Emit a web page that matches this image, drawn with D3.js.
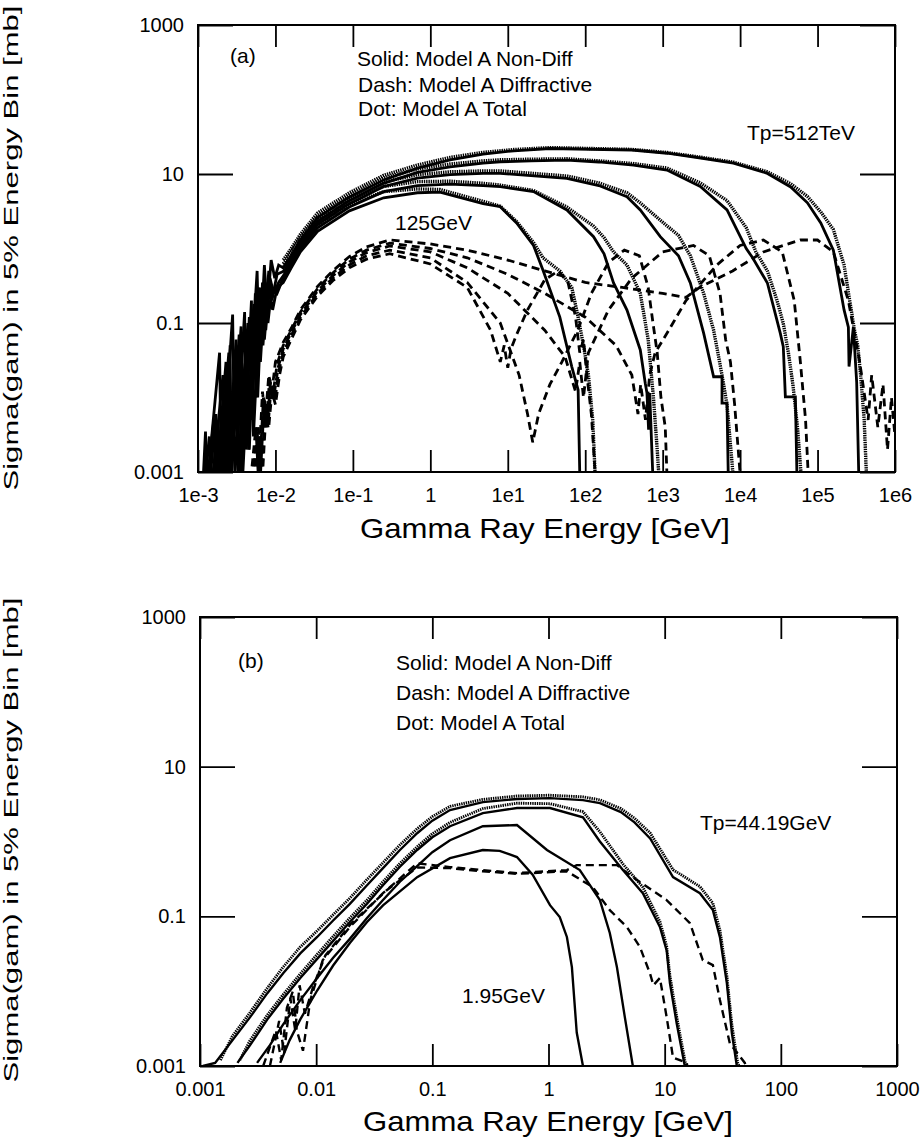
<!DOCTYPE html>
<html><head><meta charset="utf-8">
<script src="https://cdn.jsdelivr.net/npm/d3@7"></script>
<style>body{margin:0;background:#fff} text{font-family:"Liberation Sans",Arial,Helvetica,sans-serif;fill:#000}</style>
</head><body><svg id="c" width="923" height="1141"></svg>
<script>
// ---------- axis ticks ----------
const aXTicks=[1e-3,1e-2,1e-1,1,1e1,1e2,1e3,1e4,1e5,1e6];
const aXLabels=["1e-3","1e-2","1e-1","1","1e1","1e2","1e3","1e4","1e5","1e6"];
const bXTicks=[1e-3,1e-2,1e-1,1,10,100,1000];
const bXLabels=["0.001","0.01","0.1","1","10","100","1000"];
const yTicks=[0.001,0.1,10,1000];
const yLabels=["0.001","0.1","10","1000"];

// ---------- Panel (a) data : [Gamma energy GeV, sigma mb] ----------
const aSolid512=[[0.00115,0.0006],[0.00125,0.0035],[0.0013,0.0006],[0.0019,0.04],[0.002,0.0007],[0.0028,0.13],[0.003,0.0009],[0.004,0.14],[0.0042,0.002],[0.0058,0.5],[0.0062,0.03],[0.0072,0.6],[0.0078,0.15],[0.0088,0.7],[0.0098,0.4],[0.011,0.6],[0.0126,0.55],[0.016,0.8],[0.021,1.3],[0.035,2.6],[0.09,4.9],[0.25,8.3],[0.68,12],[1.8,15.5],[4.8,18.5],[12,20.5],[35,22],[115,21.5],[400,21],[1150,19],[3100,16.4],[8200,14],[22000,10.3],[45000,6.7],[74000,4.1],[110000,2.2],[160000,0.95],[220000,0.15],[250000,0.088],[255000,0.026],[290000,0.088],[320000,0.016],[345000,0.0005]];
const aSolid64=[[0.0012,0.0006],[0.0014,0.003],[0.0015,0.0006],[0.0021,0.02],[0.0022,0.0007],[0.0026,0.05],[0.0027,0.0008],[0.0036,0.09],[0.0038,0.001],[0.0049,0.2],[0.0052,0.003],[0.0064,0.3],[0.0069,0.05],[0.0082,0.5],[0.009,0.2],[0.0105,0.45],[0.013,0.5],[0.016,0.72],[0.021,1.2],[0.035,2.3],[0.09,4.4],[0.25,7.5],[0.68,10.5],[1.8,12.5],[4.8,14],[8,14.6],[20,15],[58,15.4],[150,14.5],[421,13.2],[1137,11.3],[3063,6.8],[6776,3.3],[12000,1.0],[14500,0.75],[22500,0.345],[33000,0.073],[36100,0.048],[38400,0.0102],[51700,0.0102],[54800,0.0005]];
const aSolid8=[[0.0013,0.0006],[0.0016,0.005],[0.0017,0.0006],[0.0023,0.03],[0.0024,0.0007],[0.0031,0.06],[0.0033,0.0008],[0.0044,0.1],[0.0046,0.002],[0.0055,0.25],[0.0059,0.01],[0.0068,0.35],[0.0075,0.08],[0.0085,0.4],[0.0095,0.25],[0.011,0.35],[0.013,0.45],[0.016,0.65],[0.021,1.1],[0.035,2.1],[0.09,4.0],[0.25,6.8],[0.68,8.8],[1.8,9.8],[4.8,10.2],[8,10.2],[58,8.75],[150,7],[346,4.95],[514,3.29],[931,1.44],[1600,0.8],[2277,0.345],[3381,0.073],[4550,0.019],[5840,0.019],[5840,0.0084],[6770,0.0084],[7100,0.0005]];
const aSolid1=[[0.0014,0.0006],[0.0017,0.006],[0.0018,0.0006],[0.0025,0.04],[0.0026,0.0007],[0.0034,0.07],[0.0036,0.001],[0.0046,0.12],[0.0049,0.005],[0.006,0.3],[0.0064,0.03],[0.0074,0.35],[0.008,0.1],[0.009,0.3],[0.0105,0.25],[0.0126,0.4],[0.016,0.6],[0.021,1.0],[0.035,1.9],[0.09,3.6],[0.25,5.8],[0.68,7.0],[1.8,7.3],[4.8,7.0],[8,6.76],[21.5,5.8],[58,3.29],[128,1.44],[175,0.85],[232,0.345],[346,0.149],[514,0.0435],[596,0.0155],[627,0.0115],[658,0.0037],[680,0.0115],[762,0.0005]];
const aSolid125=[[0.0015,0.0006],[0.0018,0.004],[0.0019,0.0006],[0.0024,0.015],[0.0025,0.0007],[0.0032,0.05],[0.0034,0.0008],[0.0042,0.08],[0.0045,0.002],[0.0053,0.18],[0.0056,0.01],[0.0066,0.28],[0.0072,0.06],[0.0082,0.3],[0.0092,0.15],[0.0105,0.3],[0.0126,0.35],[0.016,0.55],[0.021,0.9],[0.035,1.7],[0.09,3.2],[0.25,4.8],[0.68,5.6],[1.33,5.7],[4.8,4.0],[8,3.64],[13,2.2],[21.5,1.1],[28.5,0.51],[47,0.12],[67,0.026],[81,0.0126],[86,0.0005]];

const aDash512=[[0.0048,0.0008],[0.0056,0.004],[0.006,0.0009],[0.0068,0.012],[0.0074,0.005],[0.0082,0.02],[0.009,0.012],[0.01,0.03],[0.0126,0.055],[0.016,0.085],[0.021,0.15],[0.035,0.31],[0.055,0.5],[0.09,0.78],[0.15,1.05],[0.3,1.3],[1,1.15],[3,0.95],[10,0.7],[30,0.5],[100,0.35],[300,0.3],[1000,0.25],[2000,0.22],[3000,0.3],[8000,0.5],[20000,0.9],[60000,1.3],[100000,1.3],[160000,0.9],[250000,0.2],[350000,0.03],[450000,0.005],[500000,0.02],[600000,0.004],[700000,0.015],[800000,0.002],[900000,0.01],[1000000,0.003]];
const aDash64=[[0.005,0.0008],[0.0058,0.003],[0.0062,0.0009],[0.007,0.01],[0.0076,0.004],[0.0084,0.018],[0.0093,0.011],[0.0105,0.028],[0.0126,0.05],[0.016,0.08],[0.021,0.14],[0.035,0.29],[0.055,0.47],[0.09,0.72],[0.15,0.95],[0.3,1.18],[1,1.0],[3,0.75],[10,0.45],[30,0.25],[100,0.12],[250,0.05],[400,0.02],[480,0.006],[520,0.015],[600,0.005],[680,0.02],[800,0.04],[1200,0.08],[2000,0.2],[5000,0.6],[10000,1.1],[20000,1.3],[35000,0.9],[50000,0.2],[60000,0.03],[70000,0.005],[78000,0.0005]];
const aDash8=[[0.0052,0.0008],[0.006,0.004],[0.0064,0.0009],[0.0072,0.01],[0.0078,0.004],[0.0086,0.016],[0.0095,0.01],[0.0108,0.025],[0.0126,0.045],[0.016,0.075],[0.021,0.13],[0.035,0.27],[0.055,0.43],[0.09,0.66],[0.15,0.88],[0.3,1.08],[1,0.9],[3,0.55],[10,0.25],[30,0.08],[55,0.035],[75,0.012],[85,0.03],[95,0.01],[110,0.04],[200,0.15],[400,0.4],[1000,0.9],[2500,1.1],[4000,0.8],[5500,0.25],[6500,0.06],[7500,0.03],[8500,0.008],[10500,0.0005]];
const aDash1=[[0.0054,0.0008],[0.0062,0.003],[0.0066,0.0009],[0.0074,0.008],[0.008,0.004],[0.0088,0.014],[0.0098,0.009],[0.011,0.022],[0.0126,0.04],[0.016,0.068],[0.021,0.12],[0.035,0.25],[0.055,0.4],[0.09,0.6],[0.15,0.8],[0.3,0.95],[1,0.75],[3,0.35],[8,0.1],[14,0.02],[18,0.006],[21,0.0025],[25,0.006],[35,0.015],[50,0.03],[80,0.08],[120,0.25],[200,0.65],[320,0.95],[500,0.8],[650,0.3],[750,0.1],[850,0.04],[950,0.01],[1080,0.004],[1160,0.0005]];
const aDash125=[[0.0056,0.0008],[0.0064,0.003],[0.0068,0.0009],[0.0076,0.007],[0.0082,0.004],[0.009,0.012],[0.01,0.008],[0.0113,0.02],[0.0126,0.035],[0.016,0.06],[0.021,0.11],[0.035,0.23],[0.055,0.37],[0.09,0.55],[0.15,0.72],[0.3,0.85],[1,0.62],[3,0.3],[6,0.08],[8,0.03],[9,0.05],[10,0.025],[11,0.045],[13,0.07],[18,0.15],[30,0.38],[45,0.5],[60,0.35],[75,0.12],[85,0.04],[95,0.06],[105,0.02],[120,0.006],[140,0.0005]];

const aTot512=[[0.0126,0.7],[0.016,1.0],[0.021,1.55],[0.035,3.0],[0.09,5.6],[0.25,9.6],[0.68,13.2],[1.8,16.7],[4.8,19.5],[12,21.3],[35,22.6],[115,22],[400,21.4],[1150,19.4],[3100,16.8],[8200,14.4],[22000,10.8],[45000,7.4],[74000,5],[110000,3.1],[160000,1.8],[220000,0.6],[260000,0.2],[300000,0.08],[330000,0.05],[360000,0.02],[400000,0.005],[430000,0.0008]];
const aTot64=[[0.0126,0.62],[0.016,0.9],[0.021,1.4],[0.035,2.7],[0.09,5.1],[0.25,8.8],[0.68,11.7],[1.8,13.6],[4.8,15],[8,15.5],[20,15.8],[58,16],[150,15],[421,13.8],[1137,12],[3063,7.6],[6776,4.4],[12000,1.9],[16000,0.9],[22500,0.5],[30000,0.2],[36000,0.1],[42000,0.04],[48000,0.015],[55000,0.004],[62000,0.0008]];
const aTot8=[[0.0126,0.56],[0.016,0.8],[0.021,1.3],[0.035,2.5],[0.09,4.7],[0.25,7.8],[0.68,9.8],[1.8,10.7],[4.8,11],[8,11],[58,9.4],[150,7.6],[346,5.6],[514,4.1],[931,2.4],[1600,1.5],[2277,0.8],[3381,0.25],[4550,0.08],[5840,0.02],[6770,0.008],[7600,0.002],[8200,0.0008]];
const aTot1=[[0.0126,0.52],[0.016,0.75],[0.021,1.2],[0.035,2.3],[0.09,4.3],[0.25,6.8],[0.68,7.9],[1.8,8.0],[4.8,7.5],[8,7.1],[21.5,6.0],[58,3.6],[128,2.0],[175,1.4],[232,0.9],[346,0.6],[514,0.25],[650,0.06],[760,0.01],[850,0.002],[900,0.0008]];
const aTot125=[[0.0126,0.48],[0.016,0.7],[0.021,1.05],[0.035,2.1],[0.09,3.9],[0.25,5.8],[0.68,6.3],[1.33,6.2],[4.8,4.3],[8,3.7],[13,2.3],[21.5,1.2],[28.5,0.75],[47,0.5],[67,0.3],[81,0.12],[95,0.05],[110,0.02],[125,0.005],[135,0.0008]];

// ---------- Panel (b) data ----------
const bSolid44=[[0.00106,0.001],[0.00135,0.0011],[0.0019,0.0022],[0.0027,0.0045],[0.0038,0.0094],[0.0052,0.0174],[0.0073,0.032],[0.0102,0.053],[0.014,0.088],[0.0195,0.147],[0.0274,0.26],[0.0376,0.44],[0.0526,0.77],[0.074,1.29],[0.1,1.9],[0.142,2.63],[0.272,3.36],[0.535,3.7],[1.03,3.8],[1.98,3.57],[2.77,3.26],[4.2,2.47],[5.5,1.8],[7.5,1.1],[11.8,0.334],[20.1,0.204],[26,0.121],[29.9,0.0527],[34.3,0.0128],[37.9,0.00275],[41.8,0.001],[43,0.0008]];
const bSolid15=[[0.0021,0.0011],[0.0027,0.0019],[0.0038,0.0042],[0.0052,0.0079],[0.0073,0.015],[0.0102,0.027],[0.014,0.047],[0.0195,0.084],[0.0274,0.147],[0.0376,0.26],[0.0526,0.46],[0.074,0.77],[0.1,1.14],[0.142,1.6],[0.272,2.4],[0.535,2.8],[1.03,2.8],[1.98,2.1],[2.77,1.0],[4.37,0.415],[6.49,0.204],[9.1,0.072],[10.4,0.035],[11.1,0.0128],[12.7,0.0037],[14.9,0.001],[15.3,0.0008]];
const bSolid5=[[0.0031,0.0011],[0.004,0.0019],[0.0052,0.0036],[0.0073,0.0076],[0.0102,0.015],[0.014,0.028],[0.0195,0.05],[0.0274,0.095],[0.0376,0.165],[0.0526,0.29],[0.074,0.47],[0.1,0.72],[0.142,1.04],[0.272,1.6],[0.535,1.66],[0.97,0.77],[1.86,0.415],[2.77,0.165],[3.37,0.06],[3.88,0.021],[4.54,0.0045],[5.32,0.001],[5.5,0.0008]];
const bSolid2=[[0.0049,0.0011],[0.0059,0.0022],[0.0073,0.0042],[0.0102,0.0102],[0.014,0.022],[0.0195,0.044],[0.0274,0.084],[0.0376,0.14],[0.074,0.334],[0.142,0.6],[0.272,0.77],[0.38,0.75],[0.535,0.62],[0.73,0.36],[1.03,0.141],[1.25,0.098],[1.44,0.053],[1.59,0.021],[1.75,0.0028],[1.98,0.001],[2.05,0.0008]];

const bDash44=[[0.0035,0.001],[0.0045,0.003],[0.005,0.0012],[0.0056,0.006],[0.0063,0.01],[0.0068,0.003],[0.0077,0.0016],[0.0089,0.0076],[0.0114,0.026],[0.0195,0.072],[0.0376,0.204],[0.074,0.51],[0.142,0.455],[0.272,0.415],[0.535,0.378],[1.44,0.415],[1.75,0.483],[3.88,0.483],[5.32,0.334],[10.4,0.165],[16.5,0.081],[21.3,0.026],[26,0.0223],[29.9,0.0076],[36.4,0.002],[49,0.0011],[52,0.0008]];
const bDash15=[[0.004,0.001],[0.0048,0.004],[0.0053,0.0015],[0.006,0.008],[0.0066,0.003],[0.0072,0.012],[0.008,0.005],[0.0095,0.012],[0.012,0.03],[0.02,0.08],[0.04,0.22],[0.074,0.45],[0.142,0.44],[0.272,0.4],[0.535,0.37],[1.44,0.4],[2.41,0.245],[3.37,0.121],[4.73,0.072],[6.12,0.039],[7.46,0.0174],[8,0.012],[9.1,0.015],[10.4,0.0045],[11.8,0.0013],[15.5,0.0011],[16,0.0008]];

const bTot44=[[0.0015,0.0012],[0.0019,0.0025],[0.0027,0.0052],[0.0038,0.011],[0.0052,0.021],[0.0073,0.039],[0.0102,0.064],[0.014,0.105],[0.0195,0.175],[0.0274,0.31],[0.0376,0.52],[0.0526,0.9],[0.074,1.48],[0.1,2.15],[0.142,2.95],[0.272,3.65],[0.535,4.05],[1.03,4.15],[1.98,3.95],[2.77,3.6],[4.2,2.75],[5.5,2.05],[7.5,1.3],[11.8,0.42],[20.1,0.25],[26,0.15],[29.9,0.065],[34.3,0.016],[37.9,0.0035],[42.5,0.0011],[45,0.0009]];
const bTot15=[[0.0022,0.0012],[0.0027,0.0022],[0.0038,0.0048],[0.0052,0.009],[0.0073,0.017],[0.0102,0.031],[0.014,0.054],[0.0195,0.095],[0.0274,0.165],[0.0376,0.29],[0.0526,0.51],[0.074,0.85],[0.1,1.27],[0.142,1.8],[0.272,2.75],[0.535,3.25],[1.03,3.2],[1.98,2.5],[2.77,1.35],[4.37,0.5],[6.49,0.245],[9.1,0.085],[10.4,0.04],[11.1,0.016],[12.7,0.0045],[14.9,0.0012],[15.5,0.0009]];

// ---------- drawing ----------
const svg=d3.select("#c");
const FONT='"Liberation Sans",Arial,Helvetica,sans-serif';
const styles={
  solid:{w:2.8,dash:null},
  dash:{w:2.8,dash:"8,5"},
  dot:{w:3.4,dash:"1.4,0.9"}
};

function panel(cfg){
  const x=d3.scaleLog().domain(cfg.xdom).range([cfg.L,cfg.R]);
  const y=d3.scaleLog().domain([0.001,1000]).range([cfg.B,cfg.T]);
  const cid="clip"+cfg.id;
  svg.append("clipPath").attr("id",cid).append("rect")
    .attr("x",cfg.L).attr("y",cfg.T).attr("width",cfg.R-cfg.L).attr("height",cfg.B-cfg.T);
  const line=d3.line().x(d=>x(d[0])).y(d=>y(Math.max(d[1],1e-4)));
  const lg=svg.append("g").attr("clip-path",`url(#${cid})`);
  cfg.series.forEach(s=>{
    const st=styles[s.type];
    lg.append("path").datum(s.data).attr("d",line).attr("fill","none")
      .attr("stroke","#000").attr("stroke-width",st.w*(cfg.lw||1))
      .attr("stroke-dasharray",st.dash).attr("stroke-linejoin","miter").attr("stroke-miterlimit",3);
  });
  const ax=svg.append("g").attr("font-family",FONT);
  ax.append("g").attr("transform",`translate(0,${cfg.B})`)
    .call(d3.axisBottom(x).tickValues(cfg.xticks).tickFormat((d,i)=>cfg.xlabels[i]).tickSizeInner(-22).tickSizeOuter(0).tickPadding(16));
  ax.append("g").attr("transform",`translate(0,${cfg.T})`)
    .call(d3.axisTop(x).tickValues(cfg.xticks).tickFormat("").tickSizeInner(-22).tickSizeOuter(0));
  ax.append("g").attr("transform",`translate(${cfg.L},0)`)
    .call(d3.axisLeft(y).tickValues(yTicks).tickFormat((d,i)=>yLabels[i]).tickSizeInner(-35).tickSizeOuter(0).tickPadding(14));
  ax.append("g").attr("transform",`translate(${cfg.R},0)`)
    .call(d3.axisRight(y).tickValues(yTicks).tickFormat("").tickSizeInner(-35).tickSizeOuter(0));
  ax.selectAll(".domain").remove();
  ax.selectAll(".tick line").attr("stroke","#000").attr("stroke-width",1.8);
  ax.selectAll(".tick text").attr("font-size",20).attr("fill","#000");
  ax.selectAll("g").attr("font-size",20).attr("font-family",FONT);
  svg.append("rect").attr("x",cfg.L).attr("y",cfg.T).attr("width",cfg.R-cfg.L).attr("height",cfg.B-cfg.T)
    .attr("fill","none").attr("stroke","#000").attr("stroke-width",2);
  svg.append("text").attr("x",cfg.xtitleX).attr("y",cfg.xtitleY).attr("text-anchor","middle")
    .attr("font-size",28).attr("textLength",370).attr("lengthAdjust","spacingAndGlyphs").text("Gamma Ray Energy [GeV]");
  svg.append("text").attr("transform",`translate(18,${cfg.ytitleY}) rotate(-90)`).attr("text-anchor","middle")
    .attr("font-size",21).attr("textLength",485).attr("lengthAdjust","spacingAndGlyphs").text("Sigma(gam) in 5% Energy Bin [mb]");
  cfg.notes.forEach(n=>{
    svg.append("text").attr("x",n[0]).attr("y",n[1]).attr("font-size",21).text(n[2]);
  });
}

panel({id:"a",xdom:[1e-3,1e6],L:198,R:895,T:25,B:472,xticks:aXTicks,xlabels:aXLabels,
  xtitleX:545,xtitleY:538,ytitleY:248,
  series:[
    {type:"dash",data:aDash512},{type:"dash",data:aDash64},{type:"dash",data:aDash8},{type:"dash",data:aDash1},{type:"dash",data:aDash125},
    {type:"dot",data:aTot512},{type:"dot",data:aTot64},{type:"dot",data:aTot8},{type:"dot",data:aTot1},{type:"dot",data:aTot125},
    {type:"solid",data:aSolid512},{type:"solid",data:aSolid64},{type:"solid",data:aSolid8},{type:"solid",data:aSolid1},{type:"solid",data:aSolid125}
  ],
  notes:[[230,63,"(a)"],[357,66,"Solid: Model A Non-Diff"],[358,92,"Dash: Model A Diffractive"],[358,116,"Dot: Model A Total"],[747,140,"Tp=512TeV"],[395,230,"125GeV"]]
});
panel({id:"b",xdom:[1e-3,1e3],L:200,R:897,T:617,B:1066,xticks:bXTicks,xlabels:bXLabels,lw:0.85,
  xtitleX:548,xtitleY:1131,ytitleY:840,
  series:[
    {type:"dash",data:bDash44},{type:"dash",data:bDash15},
    {type:"dot",data:bTot44},{type:"dot",data:bTot15},
    {type:"solid",data:bSolid44},{type:"solid",data:bSolid15},{type:"solid",data:bSolid5},{type:"solid",data:bSolid2}
  ],
  notes:[[238,668,"(b)"],[396,670,"Solid: Model A Non-Diff"],[396,700,"Dash: Model A Diffractive"],[396,730,"Dot: Model A Total"],[700,830,"Tp=44.19GeV"],[462,1003,"1.95GeV"]]
});
</script></body></html>
